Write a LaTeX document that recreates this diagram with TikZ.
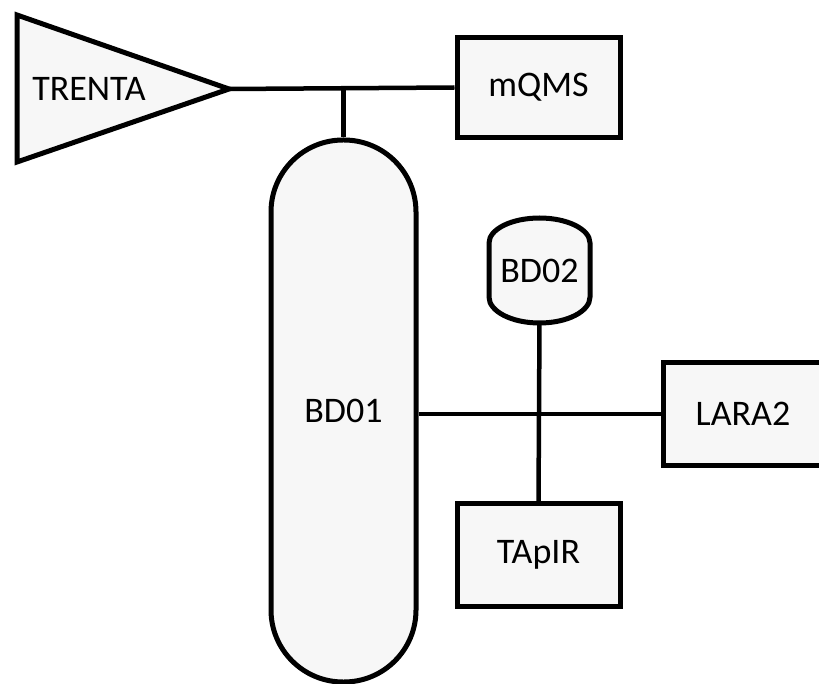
\documentclass[tikz,border=0pt]{standalone}
\usepackage{fontspec}
\setmainfont{Carlito}
\definecolor{shapefill}{HTML}{F7F7F7}
\tikzset{
  x=1pt, y=-1pt,
  unit/.style={draw=black, line width=5pt, fill=shapefill, font=\fontsize{36}{40}\selectfont},
  boxunit/.style={unit, rectangle, minimum width=163pt, minimum height=100pt, inner sep=0pt},
  link/.style={line width=4.5pt, draw=black},
  lbl/.style={font=\fontsize{36}{40}\selectfont, inner sep=0pt}
}
\begin{document}
\begin{tikzpicture}
\useasboundingbox (0,0) rectangle (819,684);
\clip (0,0) rectangle (819,684);

% TRENTA: triangular source pointing right
\draw[unit, line join=miter] (17,15) -- (229,89) -- (17,162) -- cycle;
\coordinate (trentatip) at (229,89);
\node[lbl] (trenta) at (89,89) {TRENTA};

% mQMS
\node[boxunit] (mqms) at (538.5,87.5) {mQMS};

% BD01: tall capsule
\node[unit, rectangle, rounded corners=72pt, minimum width=145pt, minimum height=542pt, inner sep=0pt] (bd01) at (343.5,411) {BD01};

% BD02: small drum with domed top and bottom
\draw[unit] (489,243) -- (489,297) arc[start angle=180, end angle=0, x radius=50.5, y radius=26]
  -- (590,243) arc[start angle=0, end angle=-180, x radius=50.5, y radius=25] -- cycle;
\node[lbl, minimum width=101pt, minimum height=105pt] (bd02) at (539.5,270.5) {BD02};

% LARA2 (runs past the right edge)
\node[unit, rectangle, minimum width=170pt, minimum height=102pt, inner sep=0pt, anchor=west] (lara2) at (661,414) {};
\node[lbl] (lara2txt) at (743,414) {LARA2};

% TApIR
\node[boxunit, minimum height=103pt] (tapir) at (538.5,555) {TApIR};

% connectors
\draw[link] (trentatip) -- (mqms.west);
\coordinate (stub) at (bd01.north |- trentatip);
\draw[link] (stub) -- (bd01.north);
\draw[link] (bd01.east |- lara2.west) -- (lara2.west);
\draw[link] (bd02.south) -- (tapir.north);
\end{tikzpicture}
\end{document}
